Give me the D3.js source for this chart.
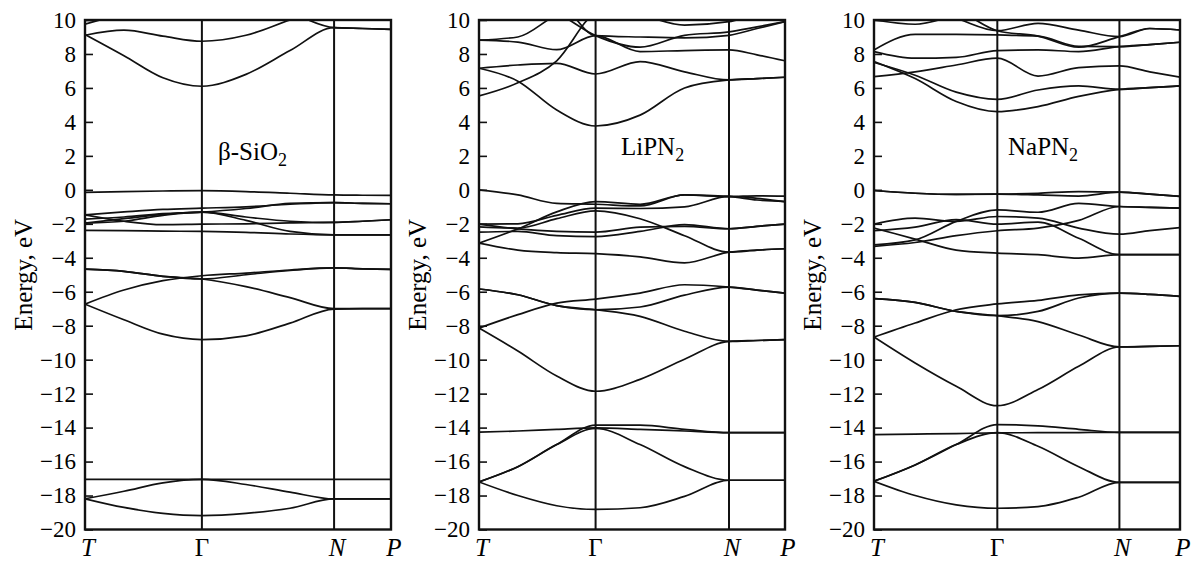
<!DOCTYPE html>
<html>
<head>
<meta charset="utf-8">
<script src="https://cdn.jsdelivr.net/npm/d3@7"></script>
<style>
  body { margin: 0; background: #fff; }
  svg { display: block; }
  text { font-family: "Liberation Serif", "Times New Roman", serif; fill: #000; }
</style>
</head>
<body>
<svg></svg>
<script>
const wSvg = 1191, hSvg = 561;
const serif = '"Liberation Serif", "Times New Roman", serif';

// energy axis ticks (eV)
const energyTicks = [-20, -18, -16, -14, -12, -10, -8, -6, -4, -2, 0, 2, 4, 6, 8, 10];

// high-symmetry points along the k path
const kLabels = ["T", "Γ", "N", "P"];
const sio2K = [0, 0.382, 0.814, 1];
const lipn2K = [0, 0.381, 0.817, 1];
const napn2K = [0, 0.403, 0.802, 1];

// each band: E at T, 1/3, 2/3, Γ, 1/3, 2/3, N, mid, P
const sio2Bands = [
  [9.15, 7.9, 6.6, 6.1, 6.8, 8.2, 9.55, 9.5, 9.45],
  [9.1, 9.4, 9.05, 8.75, 9.1, 10.0, 10.8, 11, 11],
  [11.5, 11.5, 11.5, 11.2, 10.9, 10.4, 9.55, 9.5, 9.45],
  [9.75, 10.4, 11, 11.5, 11.5, 11.5, 11.5, 11.5, 11.5],
  [-0.15, -0.1, -0.07, -0.05, -0.1, -0.2, -0.3, -0.32, -0.33],
  [-1.47, -1.3, -1.15, -1.08, -1.0, -0.85, -0.75, -0.8, -0.82],
  [-1.47, -1.85, -2.05, -2.02, -2.0, -1.95, -1.92, -1.85, -1.76],
  [-1.72, -1.6, -1.4, -1.31, -1.1, -0.8, -0.75, -0.8, -0.82],
  [-1.96, -1.85, -1.5, -1.31, -1.6, -1.85, -1.92, -1.85, -1.76],
  [-1.96, -1.7, -1.45, -1.31, -1.8, -2.45, -2.65, -2.65, -2.65],
  [-2.39, -2.4, -2.43, -2.45, -2.5, -2.6, -2.65, -2.65, -2.65],
  [-4.67, -4.8, -5.1, -5.25, -5.7, -6.35, -7.0, -7.0, -7.0],
  [-6.73, -5.9, -5.35, -5.06, -4.9, -4.72, -4.6, -4.65, -4.68],
  [-4.67, -4.8, -5.1, -5.25, -5.0, -4.75, -4.6, -4.65, -4.68],
  [-6.73, -7.65, -8.5, -8.82, -8.6, -7.85, -7.02, -7.0, -7.0],
  [-17.05, -17.05, -17.05, -17.05, -17.05, -17.05, -17.05, -17.05, -17.05],
  [-18.19, -17.75, -17.25, -17.05, -17.35, -17.8, -18.2, -18.2, -18.2],
  [-18.19, -18.7, -19.05, -19.18, -19.05, -18.75, -18.2, -18.2, -18.2]
];

const lipn2Bands = [
  [7.16, 6.4, 4.7, 3.76, 4.4, 6.0, 6.47, 6.55, 6.63],
  [5.53, 6.3, 7.6, 10.4, 11, 11, 11, 11, 11],
  [7.16, 7.35, 7.45, 6.82, 7.55, 6.95, 6.47, 6.55, 6.63],
  [8.82, 9.0, 10.3, 11, 11, 11, 11, 11, 11],
  [8.82, 8.7, 8.25, 9.08, 8.14, 8.2, 8.24, 7.95, 7.6],
  [11, 11, 10.4, 9.08, 8.4, 9.1, 9.3, 9.6, 9.9],
  [11, 11, 11, 9.08, 9.0, 8.95, 9.1, 9.5, 9.9],
  [11, 11, 11, 10.8, 10.3, 9.7, 9.9, 10.3, 10.6],
  [0.0, -0.3, -0.8, -0.85, -0.95, -0.3, -0.4, -0.35, -0.37],
  [-3.14, -2.3, -1.3, -0.69, -0.85, -0.3, -0.39, -0.6, -0.69],
  [-2.02, -2.0, -1.5, -1.08, -1.1, -1.0, -0.39, -0.5, -0.69],
  [-2.18, -2.25, -1.7, -1.24, -1.7, -2.7, -3.67, -3.55, -3.47],
  [-2.49, -2.45, -2.7, -2.75, -2.45, -2.05, -2.29, -2.15, -2.02],
  [-2.02, -2.3, -2.45, -2.49, -2.2, -2.15, -2.29, -2.15, -2.02],
  [-3.14, -3.55, -3.7, -3.76, -3.95, -4.3, -3.67, -3.55, -3.47],
  [-5.84, -6.18, -6.82, -7.06, -7.45, -8.33, -8.92, -8.87, -8.82],
  [-8.14, -7.35, -6.67, -6.43, -6.08, -5.59, -5.73, -5.9, -6.08],
  [-5.84, -6.18, -6.82, -7.06, -6.9, -6.2, -5.73, -5.9, -6.08],
  [-8.14, -9.49, -10.96, -11.86, -11.16, -9.98, -8.92, -8.87, -8.82],
  [-14.27, -14.2, -14.1, -14.02, -14.1, -14.2, -14.3, -14.3, -14.3],
  [-17.2, -16.3, -15.0, -13.85, -13.86, -14.1, -14.3, -14.3, -14.3],
  [-17.2, -16.3, -15.0, -14.05, -15.0, -16.3, -17.1, -17.1, -17.1],
  [-17.2, -18.0, -18.6, -18.82, -18.72, -18.05, -17.1, -17.1, -17.1]
];

const napn2Bands = [
  [7.55, 6.55, 5.2, 4.6, 4.9, 5.5, 5.92, 6.02, 6.12],
  [7.5, 6.75, 5.75, 5.33, 5.88, 6.12, 5.92, 6.02, 6.12],
  [6.67, 6.95, 7.35, 7.75, 6.7, 7.2, 7.3, 6.95, 6.63],
  [8.24, 9.15, 9.15, 9.12, 9.05, 8.45, 8.43, 8.55, 8.69],
  [8.14, 7.75, 7.8, 8.2, 8.24, 8.14, 8.43, 8.55, 8.69],
  [10.0, 9.75, 10.3, 11, 11, 11, 11, 11, 11],
  [11, 10.8, 10.1, 9.37, 9.8, 9.4, 9.02, 9.5, 9.41],
  [11, 11, 10.6, 9.37, 9.05, 8.4, 9.02, 9.5, 9.41],
  [-0.04, -0.2, -0.27, -0.25, -0.2, -0.1, -0.14, -0.25, -0.39],
  [-0.04, -0.2, -0.27, -0.25, -0.3, -0.37, -0.14, -0.25, -0.39],
  [-3.24, -2.95, -1.86, -1.18, -1.32, -0.8, -0.98, -1.03, -1.08],
  [-3.33, -3.1, -2.7, -2.41, -2.25, -1.8, -0.98, -1.03, -1.08],
  [-2.25, -2.9, -3.55, -3.73, -3.82, -4.02, -3.82, -3.82, -3.82],
  [-2.02, -1.67, -1.86, -1.57, -1.67, -2.25, -2.61, -2.4, -2.22],
  [-2.41, -2.2, -1.75, -2.02, -1.9, -2.85, -3.82, -3.82, -3.82],
  [-6.41, -6.63, -7.16, -7.41, -7.76, -8.55, -9.25, -9.22, -9.18],
  [-8.67, -7.84, -7.06, -6.72, -6.51, -6.18, -6.08, -6.15, -6.27],
  [-6.41, -6.63, -7.16, -7.41, -7.16, -6.37, -6.08, -6.15, -6.27],
  [-8.67, -10.2, -11.57, -12.71, -11.76, -10.39, -9.25, -9.22, -9.18],
  [-14.41, -14.38, -14.35, -14.31, -14.3, -14.29, -14.28, -14.28, -14.28],
  [-17.16, -16.2, -15.0, -13.82, -13.9, -14.1, -14.28, -14.28, -14.28],
  [-17.16, -16.2, -15.0, -14.3, -15.1, -16.3, -17.22, -17.22, -17.22],
  [-17.16, -18.0, -18.55, -18.75, -18.65, -18.1, -17.22, -17.22, -17.22]
];

const panels = [
  { id: "sio2", name: "β-SiO", sub: "2", kPts: sio2K, bands: sio2Bands, left: 85, labelX: 218, labelY: 160 },
  { id: "lipn2", name: "LiPN", sub: "2", kPts: lipn2K, bands: lipn2Bands, left: 479, labelX: 621, labelY: 155 },
  { id: "napn2", name: "NaPN", sub: "2", kPts: napn2K, bands: napn2Bands, left: 874, labelX: 1008, labelY: 155 }
];

const panelW = 306, plotTop = 20, plotBottom = 529.5;

const svg = d3.select("svg")
    .attr("width", wSvg)
    .attr("height", hSvg);

const y = d3.scaleLinear().domain([-20, 10]).range([plotBottom, plotTop]);

// k values of the 9 samples of each band
function sampleK(k) {
    const g = k[1], n = k[2];
    return [0, g / 3, 2 * g / 3, g, g + (n - g) / 3, g + 2 * (n - g) / 3, n, (n + 1) / 2, 1];
}

panels.forEach(p => {
    const x = d3.scaleLinear().domain([0, 1]).range([p.left, p.left + panelW]);
    const ks = sampleK(p.kPts);

    const g = svg.append("g").classed(p.id, true);

    g.append("clipPath")
        .attr("id", "clip-" + p.id)
        .append("rect")
        .attr("x", p.left).attr("y", plotTop)
        .attr("width", panelW).attr("height", plotBottom - plotTop);

    const line = d3.line()
        .x((d, i) => x(ks[i]))
        .y(d => y(d))
        .curve(d3.curveMonotoneX);

    g.append("g")
        .attr("clip-path", `url(#clip-${p.id})`)
        .selectAll("path")
        .data(p.bands)
        .enter()
        .append("path")
        .attr("d", line)
        .attr("fill", "none")
        .attr("stroke", "#111")
        .attr("stroke-width", 1.7);

    // Γ and N verticals
    g.selectAll("line.kline")
        .data(p.kPts.slice(1, 3))
        .enter()
        .append("line")
        .classed("kline", true)
        .attr("x1", d => x(d)).attr("x2", d => x(d))
        .attr("y1", plotTop).attr("y2", plotBottom)
        .attr("stroke", "#111")
        .attr("stroke-width", 2);

    g.append("rect")
        .attr("x", p.left).attr("y", plotTop)
        .attr("width", panelW).attr("height", plotBottom - plotTop)
        .attr("fill", "none")
        .attr("stroke", "#111")
        .attr("stroke-width", 2.4);

    // energy axis, ticks pointing inward
    const axis = d3.axisLeft(y)
        .tickValues(energyTicks)
        .tickSizeInner(-8)
        .tickSizeOuter(0)
        .tickPadding(9)
        .tickFormat(d => d < 0 ? "\u2212" + Math.abs(d) : d);

    const ax = g.append("g")
        .attr("transform", `translate(${p.left},0)`)
        .call(axis)
        .attr("font-family", null);
    ax.select(".domain").remove();
    ax.selectAll(".tick line").attr("stroke", "#111").attr("stroke-width", 1.6);
    ax.selectAll(".tick text")
        .style("font-family", serif)
        .style("font-size", "23px")
        .attr("fill", "#000");

    g.append("text")
        .attr("transform", `translate(${p.left - 53},${y(-5)}) rotate(-90)`)
        .attr("text-anchor", "middle")
        .style("font-family", serif)
        .style("font-size", "25px")
        .text("Energy, eV");

    // k labels
    g.selectAll("text.klabel")
        .data(kLabels)
        .enter()
        .append("text")
        .classed("klabel", true)
        .attr("x", (d, i) => x(p.kPts[i]) + (d === "Γ" ? 0 : 3))
        .attr("y", 556)
        .attr("text-anchor", "middle")
        .style("font-family", serif)
        .style("font-size", "25px")
        .style("font-style", d => d === "Γ" ? "normal" : "italic")
        .text(d => d);

    const lbl = g.append("text")
        .attr("x", p.labelX)
        .attr("y", p.labelY)
        .style("font-family", serif)
        .style("font-size", "25px");
    lbl.append("tspan").text(p.name);
    lbl.append("tspan").attr("dy", 6).style("font-size", "18px").text(p.sub);
});
</script>
</body>
</html>
